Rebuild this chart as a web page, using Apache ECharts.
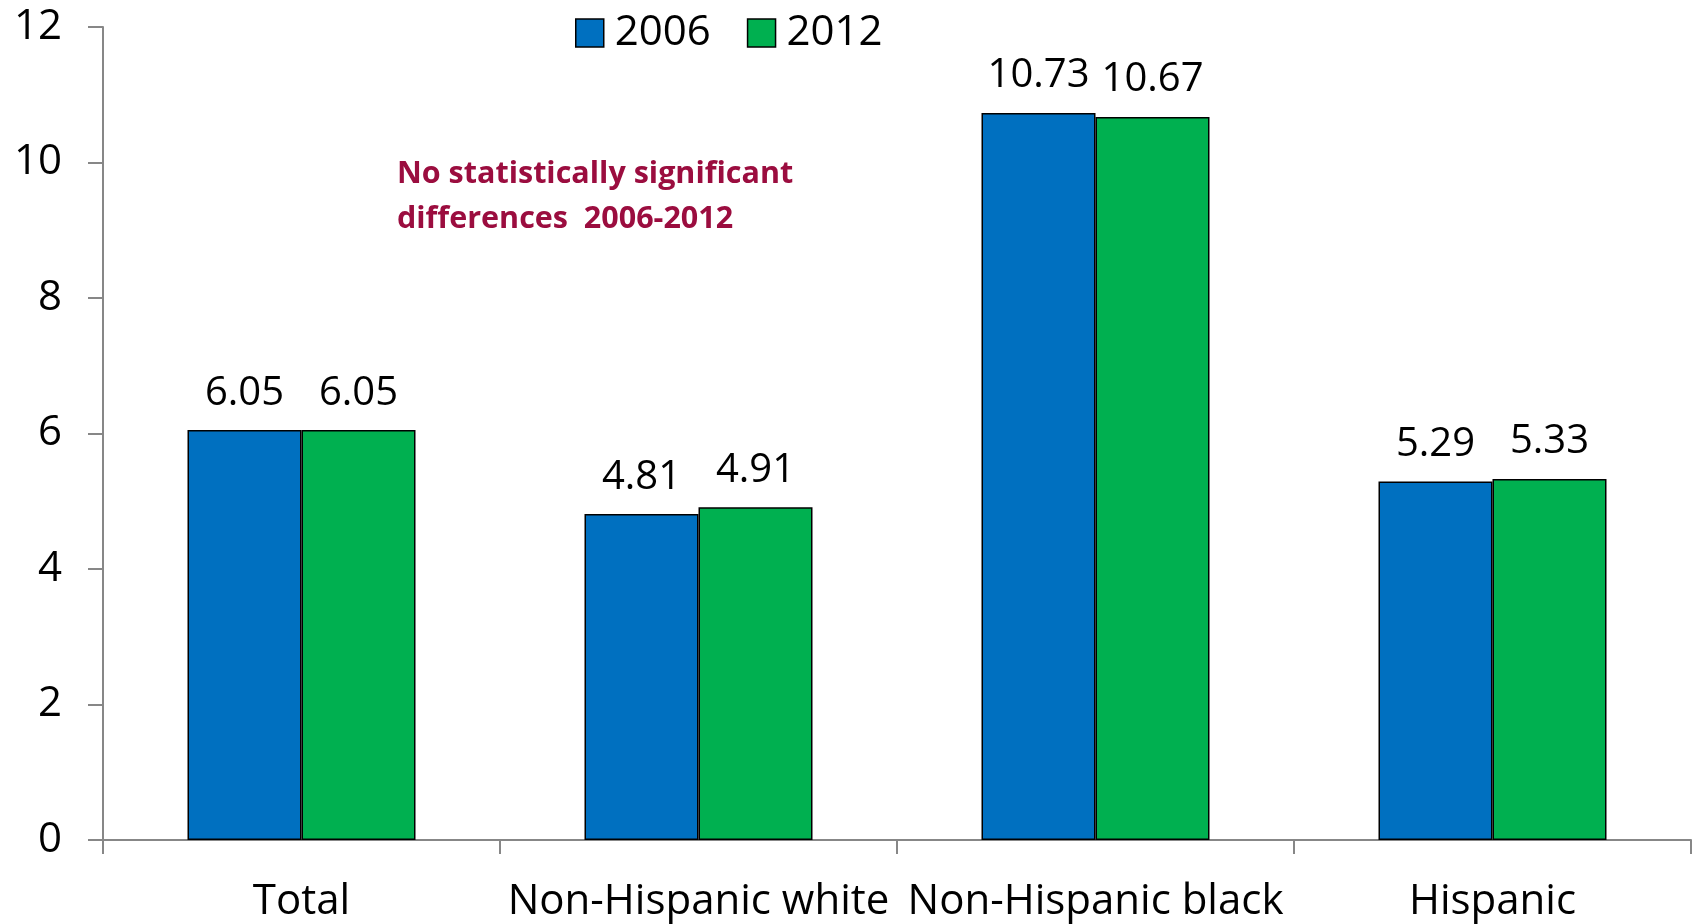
<!DOCTYPE html>
<html>
<head>
<meta charset="utf-8">
<title>Rates by race and Hispanic origin, 2006 and 2012</title>
<script src="https://cdn.jsdelivr.net/npm/echarts@6/dist/echarts.min.js"></script>
<style>
  html, body { margin: 0; padding: 0; background: #ffffff; }
  #chart { width: 1696px; height: 924px; }
</style>
</head>
<body>
<div id="chart"></div>
<script>
// Groups along the horizontal axis
const categories = ['Total', 'Non-Hispanic white', 'Non-Hispanic black', 'Hispanic'];

// Values for each survey year
const values2006 = [6.05, 4.81, 10.73, 5.29];
const values2012 = [6.05, 4.91, 10.67, 5.33];

// Series names shown in the legend
const seriesNames = ['2006', '2012'];

// Note printed inside the plot area
const noteLines = ['No statistically significant', 'differences  2006-2012'];

const FONT = '"Open Sans", "Liberation Sans", sans-serif';
const AXIS_GREY = '#878787';

const chart = echarts.init(document.getElementById('chart'), null, { renderer: 'canvas' });

function barSeries(name, data, color) {
  return {
    name: name,
    type: 'bar',
    data: data,
    barWidth: 114,
    barGap: '0%',
    itemStyle: { color: color, borderColor: '#000000', borderWidth: 1.5 },
    label: {
      show: true,
      position: 'top',
      distance: 17,
      color: '#000000',
      fontFamily: FONT,
      fontSize: 40,
      formatter: (p) => p.value.toFixed(2)
    }
  };
}

chart.setOption({
  animation: false,
  backgroundColor: '#ffffff',
  grid: { left: 103, right: 5, top: 27, bottom: 84, containLabel: false },
  legend: {
    data: seriesNames,
    left: 575,
    top: 12,
    padding: 0,
    itemWidth: 28,
    itemHeight: 28,
    itemGap: 36,
    icon: 'rect',
    itemStyle: { borderColor: '#000000', borderWidth: 1.5 },
    textStyle: {
      fontFamily: FONT,
      fontSize: 42,
      color: '#000000',
      padding: [0, 0, 0, 6]
    }
  },
  xAxis: {
    type: 'category',
    data: categories,
    axisLine: { lineStyle: { color: AXIS_GREY, width: 2 } },
    axisTick: { show: true, length: 14, lineStyle: { color: AXIS_GREY, width: 2 } },
    axisLabel: {
      interval: 0,
      hideOverlap: false,
      margin: 41,
      color: '#000000',
      fontFamily: FONT,
      fontSize: 42
    },
    splitLine: { show: false }
  },
  yAxis: {
    type: 'value',
    min: 0,
    max: 12,
    interval: 2,
    axisLine: { show: true, lineStyle: { color: AXIS_GREY, width: 2 } },
    axisTick: { show: true, length: 15, lineStyle: { color: AXIS_GREY, width: 2 } },
    axisLabel: {
      margin: 41,
      color: '#000000',
      fontFamily: FONT,
      fontSize: 42
    },
    splitLine: { show: false }
  },
  graphic: [{
    type: 'text',
    left: 397,
    top: 152,
    silent: true,
    style: {
      text: noteLines.join('\n'),
      fill: '#9B0D3F',
      font: 'bold 30.5px ' + FONT,
      lineHeight: 45
    }
  }],
  series: [
    barSeries(seriesNames[0], values2006, '#0070C0'),
    barSeries(seriesNames[1], values2012, '#00B050')
  ]
});
</script>
</body>
</html>
